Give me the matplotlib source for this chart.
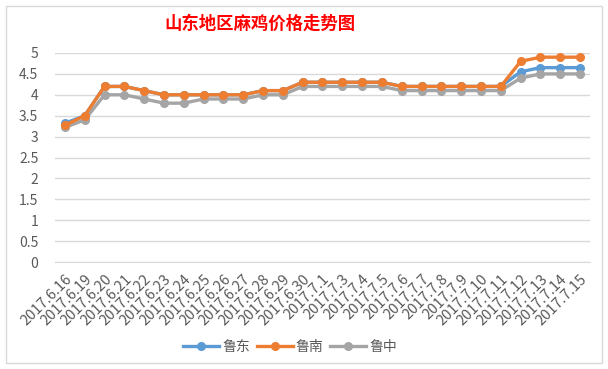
import matplotlib
matplotlib.use("Agg")
import matplotlib.pyplot as plt
from matplotlib.lines import Line2D

plt.rcParams['font.family'] = ['Noto Sans CJK SC', 'DejaVu Sans']

dates = ["2017.6.16", "2017.6.19", "2017.6.20", "2017.6.21", "2017.6.22", "2017.6.23",
         "2017.6.24", "2017.6.25", "2017.6.26", "2017.6.27", "2017.6.28", "2017.6.29",
         "2017.6.30", "2017.7.1", "2017.7.3", "2017.7.4", "2017.7.5", "2017.7.6",
         "2017.7.7", "2017.7.8", "2017.7.9", "2017.7.10", "2017.7.11", "2017.7.12",
         "2017.7.13", "2017.7.14", "2017.7.15"]
ludong = [3.32, 3.5, 4.2, 4.2, 4.1, 4.0, 4.0, 4.0, 4.0, 4.0, 4.1, 4.1, 4.3, 4.3, 4.3,
          4.3, 4.3, 4.2, 4.2, 4.2, 4.2, 4.2, 4.2, 4.55, 4.65, 4.65, 4.65]
lunan = [3.27, 3.5, 4.2, 4.2, 4.1, 4.0, 4.0, 4.0, 4.0, 4.0, 4.1, 4.1, 4.3, 4.3, 4.3,
         4.3, 4.3, 4.2, 4.2, 4.2, 4.2, 4.2, 4.2, 4.8, 4.9, 4.9, 4.9]
luzhong = [3.22, 3.4, 4.0, 4.0, 3.9, 3.8, 3.8, 3.9, 3.9, 3.9, 4.0, 4.0, 4.2, 4.2, 4.2,
           4.2, 4.2, 4.1, 4.1, 4.1, 4.1, 4.1, 4.1, 4.4, 4.5, 4.5, 4.5]
series_names = ["鲁东", "鲁南", "鲁中"]
yticks = [0, 0.5, 1, 1.5, 2, 2.5, 3, 3.5, 4, 4.5, 5]

colors = ["#5B9BD5", "#ED7D31", "#A5A5A5"]

fig = plt.figure(figsize=(6.08, 3.69), dpi=100)
W, H = 608, 369
ax = fig.add_axes([55 / W, 1 - 262 / H, (590 - 55) / W, (262 - 53) / H])

x = list(range(len(dates)))
ax.plot(x, ludong, color=colors[0], lw=2.4, marker='o', ms=5.5, label=series_names[0], zorder=3)
ax.plot(x, luzhong, color=colors[2], lw=2.4, marker='o', ms=5.5, label=series_names[2], zorder=3)
ax.plot(x, lunan, color=colors[1], lw=2.4, marker='o', ms=5.5, label=series_names[1], zorder=4)

ax.set_xlim(-0.5, len(dates) - 0.5)
ax.set_ylim(0, 5)
ax.set_yticks(yticks)
ax.set_yticklabels([f"{v:g}" for v in yticks])
ax.yaxis.grid(True, color="#D9D9D9", lw=1)
ax.set_axisbelow(True)
for s in ax.spines.values():
    s.set_visible(False)
ax.spines['bottom'].set_visible(True)
ax.spines['bottom'].set_color("#D9D9D9")
ax.tick_params(axis='both', length=0, colors="#595959")
ax.tick_params(axis='y', pad=12, labelsize=10)
ax.set_xticks(x)
ax.set_xticklabels(dates, rotation=45, ha='right', rotation_mode='anchor')
ax.tick_params(axis='x', pad=7, labelsize=10.5)

fig.text(260 / W, 1 - 24 / H, "山东地区麻鸡价格走势图", ha='center', va='center',
         color="#FF0000", fontsize=12.5, fontweight='bold')

handles = [Line2D([0], [0], color=colors[i], lw=2.4, marker='o', ms=5.5) for i in range(3)]
fig.legend(handles, series_names, loc='center', bbox_to_anchor=(290 / W, 1 - 347 / H),
           ncol=3, frameon=False, fontsize=10, handlelength=2.6, handletextpad=0.2,
           columnspacing=0.5, labelcolor="#595959")

fig.patches.append(plt.Rectangle((6 / W, 6 / H), (W - 12) / W, (H - 12) / H,
                                 transform=fig.transFigure, fill=False,
                                 edgecolor="#D9D9D9", lw=1))

fig.savefig("out.png", dpi=100, facecolor="white")
